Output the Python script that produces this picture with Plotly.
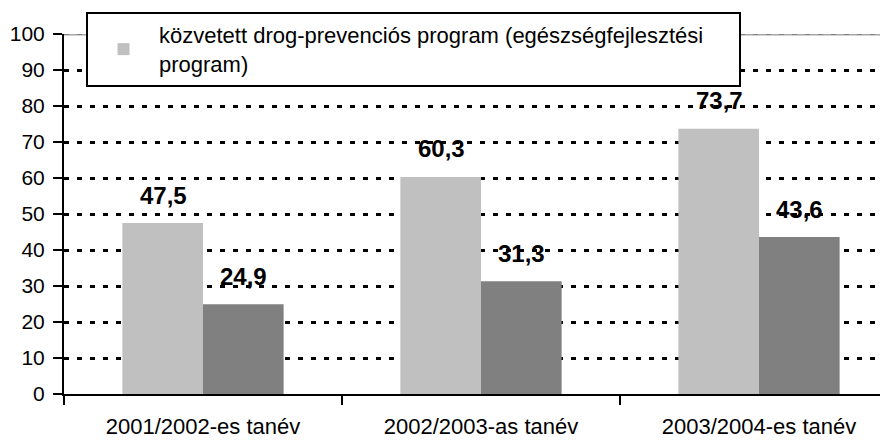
import plotly.graph_objects as go

categories = ["2001/2002-es tanév", "2002/2003-as tanév", "2003/2004-es tanév"]
series_names = [
    "közvetett drog-prevenciós program (egészségfejlesztési&nbsp;&nbsp;&nbsp;&nbsp;&nbsp;<br>program)",
    "közvetlen drog-prevenciós program",
]
indirect = [47.5, 60.3, 73.7]
direct = [24.9, 31.3, 43.6]
y_ticks = [0, 10, 20, 30, 40, 50, 60, 70, 80, 90, 100]

FONT = "Liberation Sans, Arial, sans-serif"

fig = go.Figure()
fig.add_trace(go.Bar(x=categories, y=indirect, name=series_names[0],
                     marker=dict(color="#C0C0C0", line=dict(width=0))))
fig.add_trace(go.Bar(x=categories, y=direct, name=series_names[1], showlegend=False,
                     marker=dict(color="#808080", line=dict(width=0))))

annotations = []
for vals, shift in ((indirect, -40), (direct, 40)):
    for c, v in zip(categories, vals):
        annotations.append(dict(
            x=c, y=v, xref="x", yref="y", xshift=shift, yshift=28,
            text=f"{v:.1f}".replace(".", ","), showarrow=False,
            yanchor="middle", font=dict(family=FONT, size=24, color="black", weight="bold")))

# page body has an 8px default margin, so the figure is sized 8px smaller
fig.update_layout(
    width=880, height=438,
    margin=dict(l=56, r=0, t=26, b=52),
    paper_bgcolor="white", plot_bgcolor="white",
    barmode="group", bargap=0.42, bargroupgap=0,
    font=dict(family=FONT, size=21, color="black"),
    showlegend=True,
    legend=dict(x=0.0267, y=1.061, xanchor="left", yanchor="top",
                bgcolor="white", bordercolor="black", borderwidth=2,
                font=dict(family=FONT, size=22, color="black"),
                itemwidth=61, traceorder="normal"),
    annotations=annotations,
    shapes=[
        dict(type="line", xref="paper", yref="y", x0=0, x1=1, y0=100, y1=100,
             line=dict(color="#a8a8a8", width=3), layer="above"),
        dict(type="line", xref="paper", yref="y", x0=0, x1=1, y0=100, y1=100,
             line=dict(color="#808080", width=2, dash="5px,8px"), layer="above"),
    ],
)
fig.update_xaxes(type="category", range=[-0.5, 2.464], showline=True, linecolor="black",
                 linewidth=2, ticks="outside", tickson="boundaries", ticklen=9,
                 tickwidth=2, tickcolor="black", showgrid=False, automargin=False,
                 tickfont=dict(family=FONT, size=22, color="black"),
                 ticklabelstandoff=12)
fig.update_yaxes(range=[0, 100], tickvals=y_ticks, showline=True, linecolor="black",
                 linewidth=2, ticks="outside", ticklen=9, tickwidth=2, tickcolor="black",
                 showgrid=True, gridcolor="black", gridwidth=2.5, griddash="5px,8px",
                 zeroline=False, automargin=False,
                 tickfont=dict(family=FONT, size=21, color="black"),
                 ticklabelstandoff=4)

fig.write_html("out.html")
